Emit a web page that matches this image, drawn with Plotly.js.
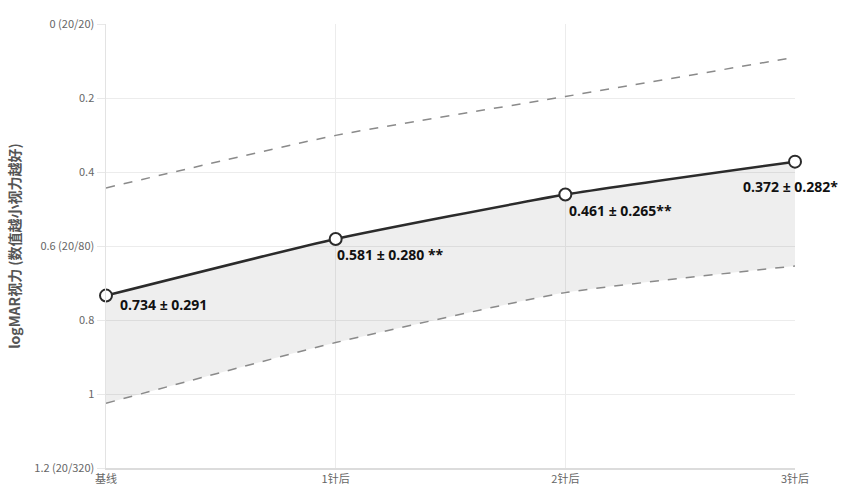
<!DOCTYPE html>
<html><head><meta charset="utf-8">
<script src="https://cdn.plot.ly/plotly-3.0.1.min.js"></script>
<style>html,body{margin:0;padding:0;background:#fff}#chart{width:865px;height:498px}</style>
</head><body><div id="chart"></div>
<script>
var categories = ["基线", "1针后", "2针后", "3针后"];
var meanVals = [0.734, 0.581, 0.461, 0.372];
var sdVals = [0.291, 0.280, 0.265, 0.282];
var sigMarks = ["", " **", "**", "*"];
var tickVals = [0, 0.2, 0.4, 0.6, 0.8, 1, 1.2];
var tickLabels = ["0 (20/20)", "0.2", "0.4", "0.6 (20/80)", "0.8", "1", "1.2 (20/320)"];

var upper = meanVals.map(function(m, i){ return +(m - sdVals[i]).toFixed(3); });
var lower = meanVals.map(function(m, i){ return +(m + sdVals[i]).toFixed(3); });

var dashLine = {color: "#8a8a8a", width: 1.5, dash: "dash", shape: "spline", smoothing: 0.5};

var traces = [
  {x: categories, y: upper, mode: "lines", line: dashLine, hoverinfo: "skip", showlegend: false},
  {x: categories, y: lower, mode: "lines", line: dashLine, hoverinfo: "skip", showlegend: false},
  {x: categories, y: meanVals, mode: "lines+markers", fill: "tonexty", fillcolor: "rgba(0,0,0,0.065)",
   line: {color: "#2b2b2b", width: 2.5, shape: "spline", smoothing: 0.5},
   marker: {size: 12, color: "#ffffff", line: {color: "#2b2b2b", width: 2}},
   cliponaxis: false, showlegend: false}
];

var offsets = [[12, -9], [-1, -16], [2, -16], [-54, -25]];
var annotations = categories.map(function(c, i){
  return {x: c, y: meanVals[i], xref: "x", yref: "y", text: meanVals[i].toFixed(3) + " ± " + sdVals[i].toFixed(3) + sigMarks[i],
    showarrow: false, xanchor: "left", yanchor: "middle", xshift: offsets[i][0], yshift: offsets[i][1],
    font: {family: "Open Sans, Noto Sans, sans-serif", size: 14, color: "#111", weight: "bold"}};
});

var layout = {
  width: 865, height: 498,
  margin: {l: 106, r: 70, t: 24, b: 30},
  paper_bgcolor: "#fff", plot_bgcolor: "#fff",
  font: {family: "Noto Sans CJK SC, Noto Sans, sans-serif", color: "#666", size: 11},
  xaxis: {type: "category", range: [0, 3], showgrid: true, gridcolor: "#ececec", gridwidth: 1,
    showline: true, linecolor: "#dcdcdc", linewidth: 1.5, zeroline: false, ticks: "",
    tickfont: {size: 11, color: "#666"}, fixedrange: true},
  yaxis: {range: [1.2, 0], tickvals: tickVals, ticktext: tickLabels, showgrid: true, gridcolor: "#ececec",
    showline: true, linecolor: "#e3e3e3", linewidth: 1.5, zeroline: false, ticks: "outside", ticklen: 8, tickcolor: "#e8e8e8",
    tickfont: {size: 11, color: "#666"},
    title: {text: "logMAR视力 (数值越小视力越好)", font: {size: 14, color: "#555", weight: "bold"}, standoff: 10}},
  annotations: annotations
};

Plotly.newPlot("chart", traces, layout, {displayModeBar: false, staticPlot: true});
</script></body></html>
